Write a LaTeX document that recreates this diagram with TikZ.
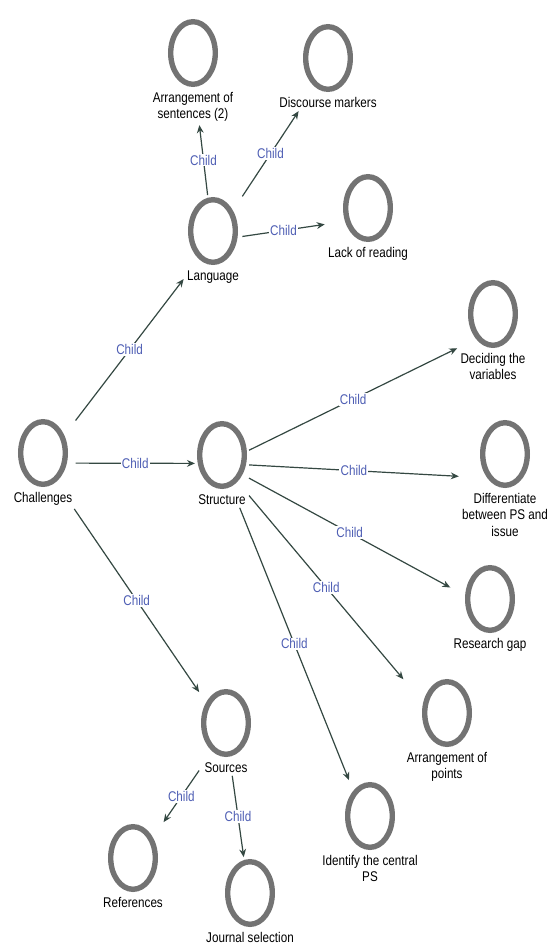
\documentclass[tikz,border=0pt]{standalone}
\usepackage{fontspec}
\setmainfont{Liberation Sans}[FakeStretch=0.83]
\usetikzlibrary{shapes.geometric,positioning,fit,arrows.meta}

\definecolor{ringgray}{RGB}{115,115,115}
\definecolor{edgegreen}{RGB}{52,72,66}
\definecolor{childblue}{RGB}{78,94,180}

\begin{document}
\begin{tikzpicture}[x=0.25mm,y=-0.25mm,
    ring/.style={draw=ringgray,line width=1.35mm,ellipse,minimum width=11.15mm,minimum height=15.65mm,inner sep=0},
    conceptlabel/.style={font=\fontsize{10}{11.5}\selectfont,align=center,inner sep=0.3mm},
    hull/.style={inner sep=0.4mm,rectangle},
    link/.style={draw=edgegreen,line width=0.3mm,-{Stealth[length=2mm,width=1.7mm]}},
    childtag/.style={font=\fontsize{10}{11.5}\selectfont,text=childblue,fill=white,inner sep=0.3mm,midway}]
    \useasboundingbox (0,0) rectangle (553,947);

    % concepts
    \node[ring] (chal-c) at (43,453) {};
    \node[conceptlabel,below=1mm of chal-c] (chal-l) {Challenges};
    \node[hull,fit=(chal-c)(chal-l)] (chal) {};

    \node[ring] (lang-c) at (213,231) {};
    \node[conceptlabel,below=1mm of lang-c] (lang-l) {Language};
    \node[hull,fit=(lang-c)(lang-l)] (lang) {};

    \node[ring] (sent-c) at (193,53) {};
    \node[conceptlabel,below=1mm of sent-c] (sent-l) {Arrangement of\\sentences (2)};
    \node[hull,fit=(sent-c)(sent-l)] (sent) {};

    \node[ring] (disc-c) at (328,58) {};
    \node[conceptlabel,below=1mm of disc-c] (disc-l) {Discourse markers};
    \node[hull,fit=(disc-c)(disc-l)] (disc) {};

    \node[ring] (lack-c) at (368,208) {};
    \node[conceptlabel,below=1mm of lack-c] (lack-l) {Lack of reading};
    \node[hull,fit=(lack-c)(lack-l)] (lack) {};

    \node[ring] (strc-c) at (222,455) {};
    \node[conceptlabel,below=1mm of strc-c] (strc-l) {Structure};
    \node[hull,fit=(strc-c)(strc-l)] (strc) {};

    \node[ring] (decid-c) at (493,314) {};
    \node[conceptlabel,below=1mm of decid-c] (decid-l) {Deciding the\\variables};
    \node[hull,fit=(decid-c)(decid-l)] (decid) {};

    \node[ring] (diff-c) at (505,454) {};
    \node[conceptlabel,below=1mm of diff-c] (diff-l) {Differentiate\\between PS and\\issue};
    \node[hull,fit=(diff-c)(diff-l)] (diff) {};

    \node[ring] (gap-c) at (490,599) {};
    \node[conceptlabel,below=1mm of gap-c] (gap-l) {Research gap};
    \node[hull,fit=(gap-c)(gap-l)] (gap) {};

    \node[ring] (pts-c) at (447,713) {};
    \node[conceptlabel,below=1mm of pts-c] (pts-l) {Arrangement of\\points};
    \node[hull,fit=(pts-c)(pts-l)] (pts) {};

    \node[ring] (ident-c) at (370,816) {};
    \node[conceptlabel,below=1mm of ident-c] (ident-l) {Identify the central\\PS};
    \node[hull,fit=(ident-c)(ident-l)] (ident) {};

    \node[ring] (src-c) at (226,723) {};
    \node[conceptlabel,below=1mm of src-c] (src-l) {Sources};
    \node[hull,fit=(src-c)(src-l)] (src) {};

    \node[ring] (refs-c) at (133,858) {};
    \node[conceptlabel,below=1mm of refs-c] (refs-l) {References};
    \node[hull,fit=(refs-c)(refs-l)] (refs) {};

    \node[ring] (jour-c) at (250,893) {};
    \node[conceptlabel,below=1mm of jour-c] (jour-l) {Journal selection};
    \node[hull,fit=(jour-c)(jour-l)] (jour) {};

    % links
    \draw[link] (chal) -- node[childtag]{Child} (lang);
    \draw[link] (chal) -- node[childtag]{Child} (strc);
    \draw[link] (chal) -- node[childtag]{Child} (src);

    \draw[link] (lang) -- node[childtag]{Child} (sent);
    \draw[link] (lang) -- node[childtag]{Child} (disc);
    \draw[link] (lang) -- node[childtag]{Child} (lack);

    \draw[link] (strc) -- node[childtag]{Child} (decid);
    \draw[link] (strc) -- node[childtag]{Child} (diff);
    \draw[link] (strc) -- node[childtag]{Child} (gap);
    \draw[link] (strc) -- node[childtag]{Child} (pts);
    \draw[link] (strc) -- node[childtag]{Child} (ident);

    \draw[link] (src) -- node[childtag]{Child} (refs);
    \draw[link] (src) -- node[childtag]{Child} (jour);
\end{tikzpicture}
\end{document}
